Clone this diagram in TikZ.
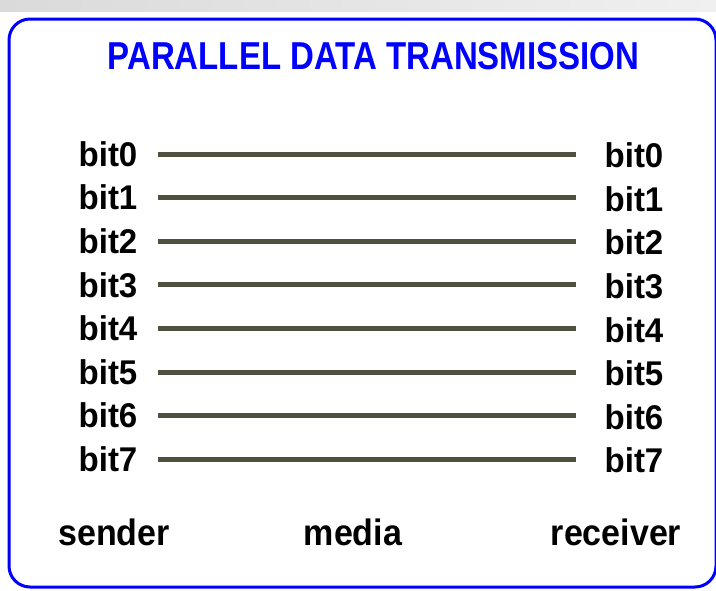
\documentclass[tikz,border=0pt]{standalone}
\usepackage{fontspec}
\setmainfont{Liberation Sans}
\definecolor{boxblue}{RGB}{0,0,255}
\definecolor{wire}{RGB}{80,80,62}
\definecolor{stripL}{RGB}{218,218,218}
\definecolor{stripR}{RGB}{240,240,240}
\begin{document}
\begin{tikzpicture}[x=1pt,y=-1pt,
  title/.style={text=boxblue,font=\bfseries\fontsize{33}{33}\selectfont,inner sep=0pt},
  bitlabel/.style={font=\bfseries\fontsize{33}{33}\selectfont,inner sep=0pt},
  foot/.style={font=\bfseries\fontsize{34}{34}\selectfont,inner sep=0pt},
  wireline/.style={draw=wire,line width=5pt},
  frame/.style={draw=boxblue,line width=3pt,rounded corners=21pt}]
\useasboundingbox (0,0) rectangle (716,590);
\shade[left color=stripL,right color=stripR] (0,0) rectangle (716,11);
\draw[frame] (9,19) rectangle (716,587);
\node[title] (title) at (373.5,56) {\scalebox{1}[1.18]{PARALLEL DATA TRANSMISSION}};
\foreach \i in {0,...,7}{
  \pgfmathsetmacro{\yy}{154+43.6*\i}
  \node[bitlabel] (L\i) at (108,\yy) {\scalebox{1}[1.04]{bit\i}};
  \node[bitlabel] (R\i) at (634,\yy+1.5) {\scalebox{1}[1.04]{bit\i}};
  \coordinate (a\i) at (158,\yy);
  \coordinate (b\i) at (576,\yy);
  \draw[wireline] (a\i) -- (b\i);
}
\node[foot] (sender) at (114,532) {\scalebox{1}[1.08]{sender}};
\node[foot] (media) at (353,532) {\scalebox{1}[1.08]{media}};
\node[foot] (receiver) at (616,532) {\scalebox{1}[1.08]{receiver}};
\end{tikzpicture}
\end{document}
